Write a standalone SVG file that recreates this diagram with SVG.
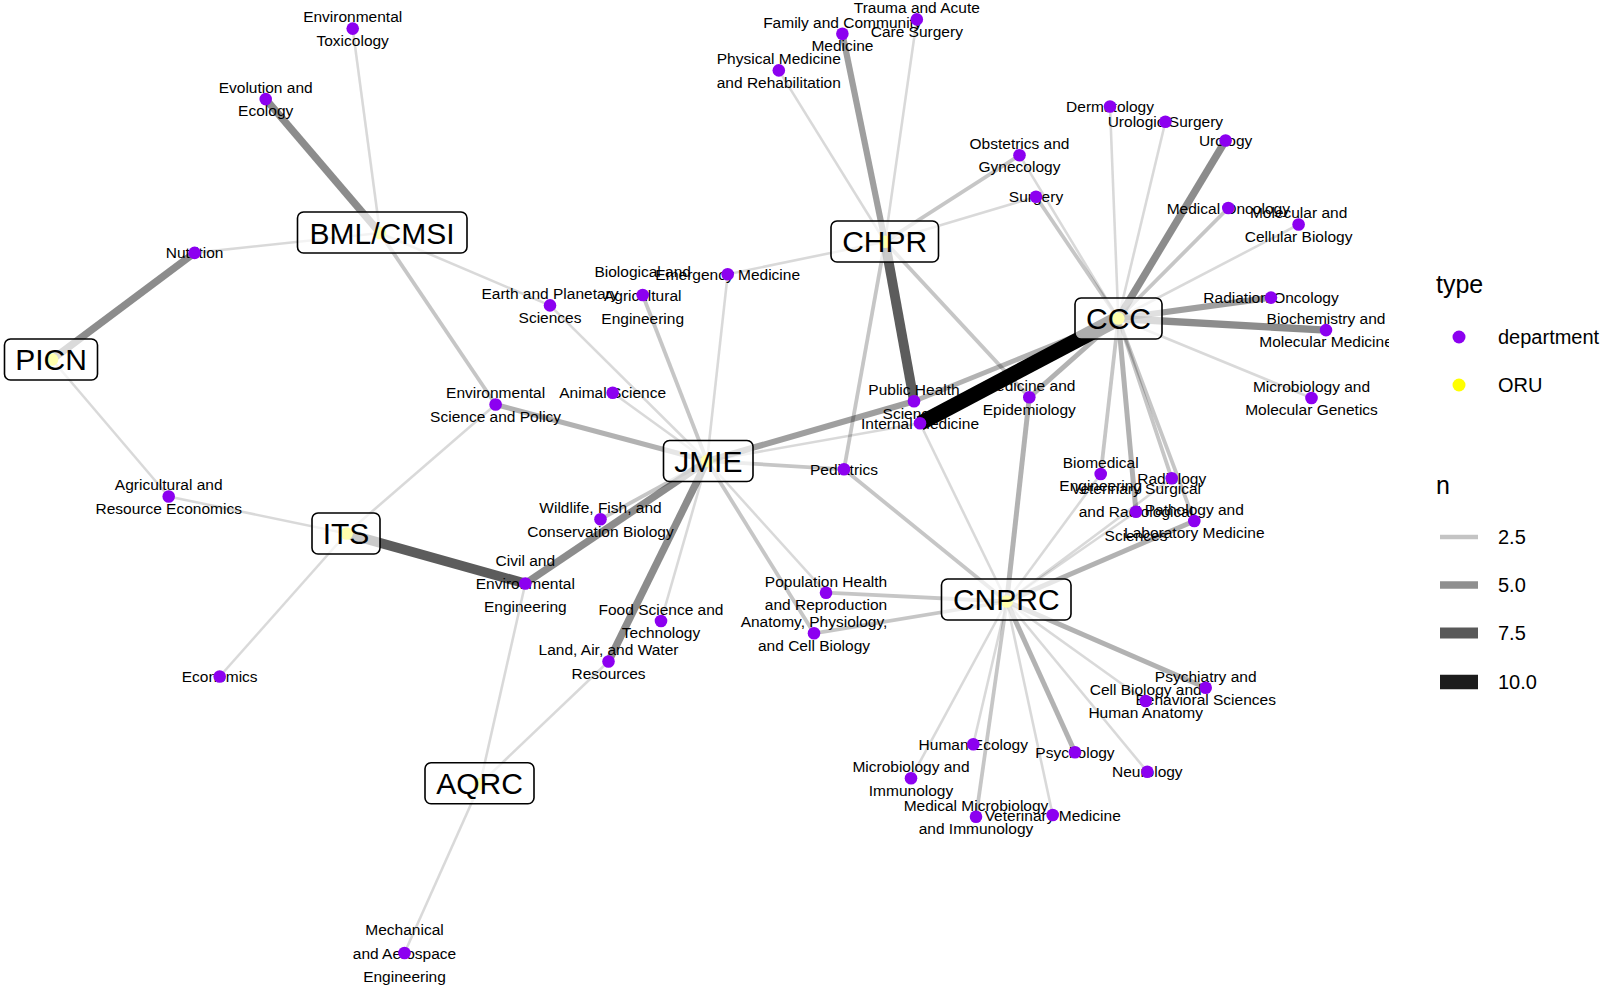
<svg xmlns="http://www.w3.org/2000/svg" width="1603" height="990" viewBox="0 0 1603 990">
<defs>
<clipPath id="panel"><rect x="0" y="0" width="1389" height="990"/></clipPath>
<style>
.dl{font-family:"Liberation Sans",Arial,sans-serif;font-size:15.5px;text-anchor:middle;fill:#000}
.ol{font-family:"Liberation Sans",Arial,sans-serif;font-size:30px;text-anchor:middle;fill:#000}
.box{fill:#fff;fill-opacity:0.68;stroke:#000;stroke-width:1.6}
.dp{fill:#8c00f0}
.op{fill:#ffff00}
line{fill:none;stroke:#000}
.e1{stroke-opacity:0.15;stroke-width:2.6}
.e2{stroke-opacity:0.225;stroke-width:3.8}
.e3{stroke-opacity:0.3;stroke-width:5}
.e4{stroke-opacity:0.375;stroke-width:6.2}
.e5{stroke-opacity:0.45;stroke-width:7.4}
.e7{stroke-opacity:0.64;stroke-width:9.8}
.e11{stroke-opacity:1;stroke-width:15}
.lt{font-family:"Liberation Sans",Arial,sans-serif;font-size:25px;fill:#000}
.lx{font-family:"Liberation Sans",Arial,sans-serif;font-size:20px;fill:#000}
</style>
</defs>
<rect width="1603" height="990" fill="#fff"/>
<g clip-path="url(#panel)">
<g id="department-labels">
<text class="dl"><tspan x="352.7" y="22.4">Environmental</tspan><tspan x="352.7" y="45.8">Toxicology</tspan></text>
<text class="dl"><tspan x="265.7" y="93">Evolution and</tspan><tspan x="265.7" y="116.3">Ecology</tspan></text>
<text class="dl" x="194.6" y="258.4">Nutrition</text>
<text class="dl"><tspan x="550" y="299.3">Earth and Planetary</tspan><tspan x="550" y="322.6">Sciences</tspan></text>
<text class="dl"><tspan x="642.7" y="277.2">Biological and</tspan><tspan x="642.7" y="300.5">Agricultural</tspan><tspan x="642.7" y="323.8">Engineering</tspan></text>
<text class="dl" x="727.7" y="279.8">Emergency Medicine</text>
<text class="dl" x="612.7" y="398.2">Animal Science</text>
<text class="dl"><tspan x="495.6" y="398.4">Environmental</tspan><tspan x="495.6" y="421.7">Science and Policy</tspan></text>
<text class="dl"><tspan x="168.7" y="490.4">Agricultural and</tspan><tspan x="168.7" y="513.7">Resource Economics</tspan></text>
<text class="dl"><tspan x="600.5" y="513.2">Wildlife, Fish, and</tspan><tspan x="600.5" y="536.5">Conservation Biology</tspan></text>
<text class="dl"><tspan x="525.3" y="565.7">Civil and</tspan><tspan x="525.3" y="589">Environmental</tspan><tspan x="525.3" y="612.3">Engineering</tspan></text>
<text class="dl"><tspan x="661" y="614.9">Food Science and</tspan><tspan x="661" y="638.2">Technology</tspan></text>
<text class="dl"><tspan x="608.5" y="655.4">Land, Air, and Water</tspan><tspan x="608.5" y="678.7">Resources</tspan></text>
<text class="dl" x="219.7" y="682">Economics</text>
<text class="dl"><tspan x="404.5" y="935.2">Mechanical</tspan><tspan x="404.5" y="958.5">and Aerospace</tspan><tspan x="404.5" y="981.8">Engineering</tspan></text>
<text class="dl"><tspan x="778.8" y="64.3">Physical Medicine</tspan><tspan x="778.8" y="87.6">and Rehabilitation</tspan></text>
<text class="dl"><tspan x="842.4" y="27.6">Family and Community</tspan><tspan x="842.4" y="50.9">Medicine</tspan></text>
<text class="dl"><tspan x="916.8" y="13.3">Trauma and Acute</tspan><tspan x="916.8" y="36.6">Care Surgery</tspan></text>
<text class="dl"><tspan x="1019.5" y="149.1">Obstetrics and</tspan><tspan x="1019.5" y="172.4">Gynecology</tspan></text>
<text class="dl" x="1036" y="202.2">Surgery</text>
<text class="dl" x="1110" y="112">Dermatology</text>
<text class="dl" x="1165.4" y="127.2">Urologic Surgery</text>
<text class="dl" x="1225.6" y="146">Urology</text>
<text class="dl" x="1228.3" y="213.5">Medical Oncology</text>
<text class="dl"><tspan x="1298.6" y="218.4">Molecular and</tspan><tspan x="1298.6" y="241.7">Cellular Biology</tspan></text>
<text class="dl" x="1271" y="303.1">Radiation Oncology</text>
<text class="dl"><tspan x="1326" y="324">Biochemistry and</tspan><tspan x="1326" y="347.3">Molecular Medicine</tspan></text>
<text class="dl"><tspan x="1311.5" y="391.9">Microbiology and</tspan><tspan x="1311.5" y="415.2">Molecular Genetics</tspan></text>
<text class="dl"><tspan x="914" y="395.2">Public Health</tspan><tspan x="914" y="418.5">Sciences</tspan></text>
<text class="dl" x="920" y="428.8">Internal Medicine</text>
<text class="dl"><tspan x="1029.3" y="391.2">Medicine and</tspan><tspan x="1029.3" y="414.5">Epidemiology</tspan></text>
<text class="dl" x="844" y="474.8">Pediatrics</text>
<text class="dl"><tspan x="1100.7" y="467.9">Biomedical</tspan><tspan x="1100.7" y="491.2">Engineering</tspan></text>
<text class="dl" x="1171.7" y="483.8">Radiology</text>
<text class="dl"><tspan x="1136" y="493.9">Veterinary Surgical</tspan><tspan x="1136" y="517.2">and Radiological</tspan><tspan x="1136" y="540.5">Sciences</tspan></text>
<text class="dl"><tspan x="1194.3" y="514.9">Pathology and</tspan><tspan x="1194.3" y="538.2">Laboratory Medicine</tspan></text>
<text class="dl"><tspan x="826" y="586.6">Population Health</tspan><tspan x="826" y="609.9">and Reproduction</tspan></text>
<text class="dl"><tspan x="814" y="627.2">Anatomy, Physiology,</tspan><tspan x="814" y="650.5">and Cell Biology</tspan></text>
<text class="dl"><tspan x="1205.7" y="681.6">Psychiatry and</tspan><tspan x="1205.7" y="704.9">Behavioral Sciences</tspan></text>
<text class="dl"><tspan x="1145.7" y="694.9">Cell Biology and</tspan><tspan x="1145.7" y="718.2">Human Anatomy</tspan></text>
<text class="dl" x="973.3" y="749.8">Human Ecology</text>
<text class="dl" x="1075" y="757.8">Psychology</text>
<text class="dl" x="1147.3" y="777.2">Neurology</text>
<text class="dl"><tspan x="911" y="772.2">Microbiology and</tspan><tspan x="911" y="795.5">Immunology</tspan></text>
<text class="dl"><tspan x="976" y="810.6">Medical Microbiology</tspan><tspan x="976" y="833.9">and Immunology</tspan></text>
<text class="dl" x="1052.7" y="820.5">Veterinary Medicine</text>
</g>
<g id="connectors">
<line class="e1" x1="380" y1="233" x2="352.7" y2="28.6"/>
<line class="e1" x1="380" y1="233" x2="194.6" y2="252.9"/>
<line class="e1" x1="380" y1="233" x2="550" y2="305.4"/>
<line class="e1" x1="52" y1="359.5" x2="168.7" y2="496.5"/>
<line class="e1" x1="346.6" y1="533.5" x2="168.7" y2="496.5"/>
<line class="e1" x1="346.6" y1="533.5" x2="495.6" y2="404.5"/>
<line class="e1" x1="346.6" y1="533.5" x2="219.7" y2="676.5"/>
<line class="e1" x1="480" y1="784" x2="525.3" y2="583.5"/>
<line class="e1" x1="480" y1="784" x2="608.5" y2="661.5"/>
<line class="e1" x1="480" y1="784" x2="404.5" y2="953"/>
<line class="e1" x1="707" y1="461" x2="550" y2="305.4"/>
<line class="e1" x1="707" y1="461" x2="727.7" y2="274.3"/>
<line class="e1" x1="707" y1="461" x2="612.7" y2="392.7"/>
<line class="e1" x1="707" y1="461" x2="661" y2="621"/>
<line class="e1" x1="707" y1="461" x2="920" y2="423.3"/>
<line class="e1" x1="707" y1="461" x2="826" y2="592.7"/>
<line class="e1" x1="885" y1="241.7" x2="778.8" y2="70.4"/>
<line class="e1" x1="885" y1="241.7" x2="916.8" y2="19.4"/>
<line class="e1" x1="885" y1="241.7" x2="1036" y2="196.7"/>
<line class="e1" x1="885" y1="241.7" x2="727.7" y2="274.3"/>
<line class="e1" x1="1118.3" y1="318.5" x2="1110" y2="106.5"/>
<line class="e1" x1="1118.3" y1="318.5" x2="1165.4" y2="121.7"/>
<line class="e1" x1="1118.3" y1="318.5" x2="1298.6" y2="224.5"/>
<line class="e1" x1="1118.3" y1="318.5" x2="1311.5" y2="398"/>
<line class="e1" x1="1118.3" y1="318.5" x2="1019.5" y2="155.2"/>
<line class="e1" x1="1006.7" y1="601.5" x2="920" y2="423.3"/>
<line class="e1" x1="1006.7" y1="601.5" x2="1100.7" y2="474"/>
<line class="e1" x1="1006.7" y1="601.5" x2="1136" y2="511.7"/>
<line class="e1" x1="1006.7" y1="601.5" x2="1171.7" y2="478.3"/>
<line class="e1" x1="1006.7" y1="601.5" x2="1145.7" y2="701"/>
<line class="e1" x1="1006.7" y1="601.5" x2="973.3" y2="744.3"/>
<line class="e1" x1="1006.7" y1="601.5" x2="1147.3" y2="771.7"/>
<line class="e1" x1="1006.7" y1="601.5" x2="911" y2="778.3"/>
<line class="e1" x1="1006.7" y1="601.5" x2="1052.7" y2="815"/>
<line class="e2" x1="380" y1="233" x2="495.6" y2="404.5"/>
<line class="e2" x1="707" y1="461" x2="642.7" y2="295"/>
<line class="e2" x1="707" y1="461" x2="600.5" y2="519.3"/>
<line class="e2" x1="707" y1="461" x2="844" y2="469.3"/>
<line class="e2" x1="707" y1="461" x2="814" y2="633.3"/>
<line class="e2" x1="885" y1="241.7" x2="1019.5" y2="155.2"/>
<line class="e2" x1="885" y1="241.7" x2="1029.3" y2="397.3"/>
<line class="e2" x1="885" y1="241.7" x2="844" y2="469.3"/>
<line class="e2" x1="1118.3" y1="318.5" x2="1228.3" y2="208"/>
<line class="e2" x1="1118.3" y1="318.5" x2="1036" y2="196.7"/>
<line class="e2" x1="1118.3" y1="318.5" x2="1100.7" y2="474"/>
<line class="e2" x1="1118.3" y1="318.5" x2="1171.7" y2="478.3"/>
<line class="e2" x1="1118.3" y1="318.5" x2="1194.3" y2="521"/>
<line class="e2" x1="1006.7" y1="601.5" x2="844" y2="469.3"/>
<line class="e2" x1="1006.7" y1="601.5" x2="826" y2="592.7"/>
<line class="e2" x1="1006.7" y1="601.5" x2="814" y2="633.3"/>
<line class="e2" x1="1006.7" y1="601.5" x2="976" y2="816.7"/>
<line class="e3" x1="707" y1="461" x2="495.6" y2="404.5"/>
<line class="e3" x1="1118.3" y1="318.5" x2="914" y2="401.3"/>
<line class="e3" x1="1118.3" y1="318.5" x2="1029.3" y2="397.3"/>
<line class="e3" x1="1118.3" y1="318.5" x2="1136" y2="511.7"/>
<line class="e3" x1="1006.7" y1="601.5" x2="1029.3" y2="397.3"/>
<line class="e3" x1="1006.7" y1="601.5" x2="1194.3" y2="521"/>
<line class="e3" x1="1006.7" y1="601.5" x2="1205.7" y2="687.7"/>
<line class="e3" x1="1006.7" y1="601.5" x2="1075" y2="752.3"/>
<line class="e4" x1="707" y1="461" x2="914" y2="401.3"/>
<line class="e4" x1="885" y1="241.7" x2="842.4" y2="33.7"/>
<line class="e4" x1="1118.3" y1="318.5" x2="1271" y2="297.6"/>
<line class="e5" x1="380" y1="233" x2="265.7" y2="99.1"/>
<line class="e5" x1="52" y1="359.5" x2="194.6" y2="252.9"/>
<line class="e5" x1="707" y1="461" x2="525.3" y2="583.5"/>
<line class="e5" x1="707" y1="461" x2="608.5" y2="661.5"/>
<line class="e5" x1="1118.3" y1="318.5" x2="1225.6" y2="140.5"/>
<line class="e5" x1="1118.3" y1="318.5" x2="1326" y2="330.1"/>
<line class="e7" x1="346.6" y1="533.5" x2="525.3" y2="583.5"/>
<line class="e7" x1="885" y1="241.7" x2="914" y2="401.3"/>
<line class="e11" x1="1118.3" y1="318.5" x2="920" y2="423.3"/>
</g>
<g id="department-points">
<circle class="dp" cx="352.7" cy="28.6" r="6.3"/>
<circle class="dp" cx="265.7" cy="99.1" r="6.3"/>
<circle class="dp" cx="194.6" cy="252.9" r="6.3"/>
<circle class="dp" cx="550" cy="305.4" r="6.3"/>
<circle class="dp" cx="642.7" cy="295" r="6.3"/>
<circle class="dp" cx="727.7" cy="274.3" r="6.3"/>
<circle class="dp" cx="612.7" cy="392.7" r="6.3"/>
<circle class="dp" cx="495.6" cy="404.5" r="6.3"/>
<circle class="dp" cx="168.7" cy="496.5" r="6.3"/>
<circle class="dp" cx="600.5" cy="519.3" r="6.3"/>
<circle class="dp" cx="525.3" cy="583.5" r="6.3"/>
<circle class="dp" cx="661" cy="621" r="6.3"/>
<circle class="dp" cx="608.5" cy="661.5" r="6.3"/>
<circle class="dp" cx="219.7" cy="676.5" r="6.3"/>
<circle class="dp" cx="404.5" cy="953" r="6.3"/>
<circle class="dp" cx="778.8" cy="70.4" r="6.3"/>
<circle class="dp" cx="842.4" cy="33.7" r="6.3"/>
<circle class="dp" cx="916.8" cy="19.4" r="6.3"/>
<circle class="dp" cx="1019.5" cy="155.2" r="6.3"/>
<circle class="dp" cx="1036" cy="196.7" r="6.3"/>
<circle class="dp" cx="1110" cy="106.5" r="6.3"/>
<circle class="dp" cx="1165.4" cy="121.7" r="6.3"/>
<circle class="dp" cx="1225.6" cy="140.5" r="6.3"/>
<circle class="dp" cx="1228.3" cy="208" r="6.3"/>
<circle class="dp" cx="1298.6" cy="224.5" r="6.3"/>
<circle class="dp" cx="1271" cy="297.6" r="6.3"/>
<circle class="dp" cx="1326" cy="330.1" r="6.3"/>
<circle class="dp" cx="1311.5" cy="398" r="6.3"/>
<circle class="dp" cx="914" cy="401.3" r="6.3"/>
<circle class="dp" cx="920" cy="423.3" r="6.3"/>
<circle class="dp" cx="1029.3" cy="397.3" r="6.3"/>
<circle class="dp" cx="844" cy="469.3" r="6.3"/>
<circle class="dp" cx="1100.7" cy="474" r="6.3"/>
<circle class="dp" cx="1171.7" cy="478.3" r="6.3"/>
<circle class="dp" cx="1136" cy="511.7" r="6.3"/>
<circle class="dp" cx="1194.3" cy="521" r="6.3"/>
<circle class="dp" cx="826" cy="592.7" r="6.3"/>
<circle class="dp" cx="814" cy="633.3" r="6.3"/>
<circle class="dp" cx="1205.7" cy="687.7" r="6.3"/>
<circle class="dp" cx="1145.7" cy="701" r="6.3"/>
<circle class="dp" cx="973.3" cy="744.3" r="6.3"/>
<circle class="dp" cx="1075" cy="752.3" r="6.3"/>
<circle class="dp" cx="1147.3" cy="771.7" r="6.3"/>
<circle class="dp" cx="911" cy="778.3" r="6.3"/>
<circle class="dp" cx="976" cy="816.7" r="6.3"/>
<circle class="dp" cx="1052.7" cy="815" r="6.3"/>
</g>
<g id="oru-BML-CMSI"><circle class="op" cx="380" cy="233" r="6.3"/><rect class="box" x="297.5" y="212" width="169.5" height="41" rx="6"/><text class="ol" x="382" y="243.7">BML/CMSI</text></g>
<g id="oru-PICN"><circle class="op" cx="52" cy="359.5" r="6.3"/><rect class="box" x="4.5" y="339" width="93" height="41" rx="6"/><text class="ol" x="51" y="370.2">PICN</text></g>
<g id="oru-CHPR"><circle class="op" cx="885" cy="241.7" r="6.3"/><rect class="box" x="831" y="221" width="107.5" height="41" rx="6"/><text class="ol" x="884.7" y="252.3">CHPR</text></g>
<g id="oru-CCC"><circle class="op" cx="1118.3" cy="318.5" r="6.3"/><rect class="box" x="1075" y="298" width="87" height="41" rx="6"/><text class="ol" x="1118.5" y="329.2">CCC</text></g>
<g id="oru-JMIE"><circle class="op" cx="707" cy="461" r="6.3"/><rect class="box" x="663.5" y="440.5" width="89.5" height="41" rx="6"/><text class="ol" x="708.3" y="471.7">JMIE</text></g>
<g id="oru-ITS"><circle class="op" cx="346.6" cy="533.5" r="6.3"/><rect class="box" x="312" y="513" width="68" height="41" rx="6"/><text class="ol" x="346" y="544.2">ITS</text></g>
<g id="oru-CNPRC"><circle class="op" cx="1006.7" cy="601.5" r="6.3"/><rect class="box" x="941.5" y="579" width="129.5" height="41" rx="6"/><text class="ol" x="1006.3" y="610.2">CNPRC</text></g>
<g id="oru-AQRC"><circle class="op" cx="480" cy="784" r="6.3"/><rect class="box" x="425" y="762.7" width="109" height="41" rx="6"/><text class="ol" x="479.5" y="794">AQRC</text></g>
</g>
<g id="legend">
<text class="lt" x="1436" y="293">type</text>
<circle class="dp" cx="1459" cy="337" r="6.5"/>
<text class="lx" x="1498" y="344">department</text>
<circle class="op" cx="1459" cy="385" r="6.5"/>
<text class="lx" x="1498" y="392">ORU</text>
<text class="lt" x="1436" y="494">n</text>
<line x1="1440" y1="537" x2="1478" y2="537" stroke-opacity="0.23" stroke-width="4.5"/>
<text class="lx" x="1498" y="544">2.5</text>
<line x1="1440" y1="585" x2="1478" y2="585" stroke-opacity="0.44" stroke-width="7.5"/>
<text class="lx" x="1498" y="592">5.0</text>
<line x1="1440" y1="633" x2="1478" y2="633" stroke-opacity="0.65" stroke-width="11"/>
<text class="lx" x="1498" y="640">7.5</text>
<line x1="1440" y1="682" x2="1478" y2="682" stroke-opacity="0.89" stroke-width="14.5"/>
<text class="lx" x="1498" y="689">10.0</text>
</g>
</svg>
